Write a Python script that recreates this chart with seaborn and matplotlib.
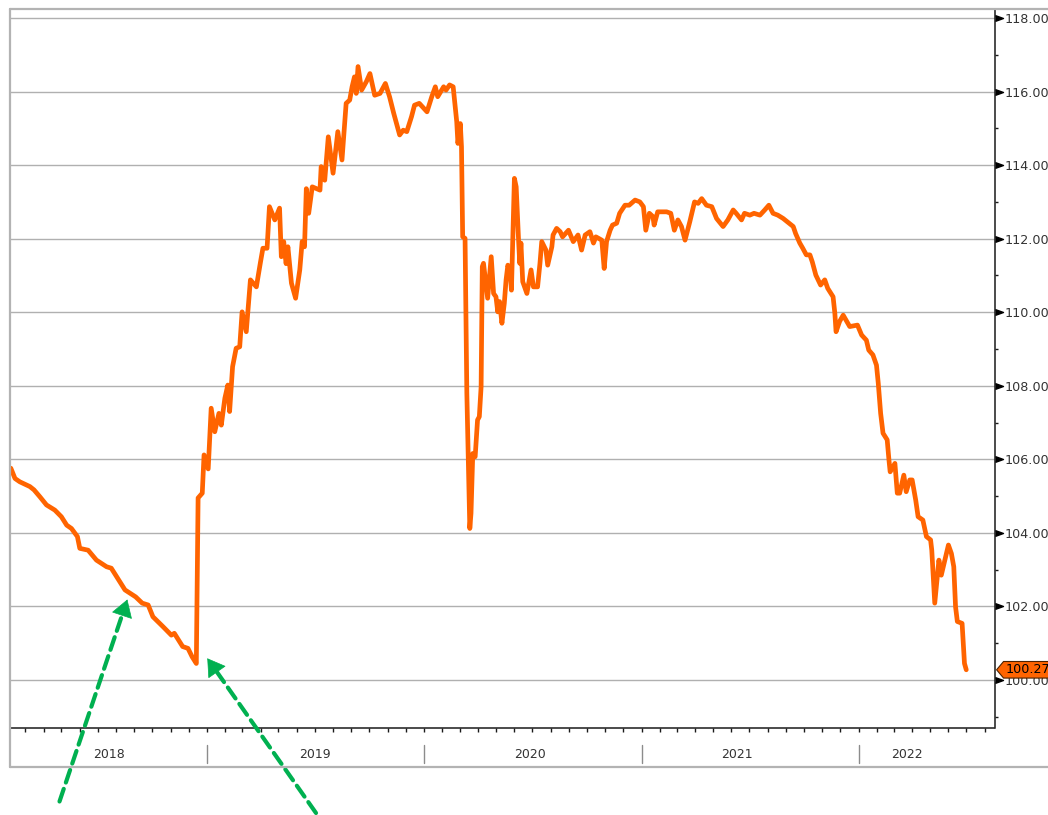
import numpy as np
import pandas as pd
import matplotlib
matplotlib.use("Agg")
import matplotlib.pyplot as plt
import matplotlib.dates as mdates
from matplotlib.lines import Line2D
from matplotlib.path import Path
from matplotlib.patches import ArrowStyle
import seaborn as sns

# ---- price history -------------------------------------------------------
dates = [
    "2018-02-05", "2018-02-12", "2018-02-20", "2018-03-09", "2018-03-16", "2018-03-26",
    "2018-04-06", "2018-04-20", "2018-05-01", "2018-05-10", "2018-05-18", "2018-05-28",
    "2018-06-01", "2018-06-15", "2018-06-29", "2018-07-16", "2018-07-24", "2018-08-02",
    "2018-08-16", "2018-09-03", "2018-09-14", "2018-09-24", "2018-10-02", "2018-10-19",
    "2018-11-02", "2018-11-07", "2018-11-21", "2018-11-30", "2018-12-07", "2018-12-14",
    "2018-12-17", "2018-12-24", "2018-12-27", "2019-01-03", "2019-01-08", "2019-01-14",
    "2019-01-21", "2019-01-25", "2019-01-31", "2019-02-05", "2019-02-08", "2019-02-13",
    "2019-02-19", "2019-02-25", "2019-03-01", "2019-03-08", "2019-03-15", "2019-03-25",
    "2019-04-01", "2019-04-05", "2019-04-12", "2019-04-16", "2019-04-25", "2019-05-03",
    "2019-05-06", "2019-05-10", "2019-05-14", "2019-05-17", "2019-05-23", "2019-05-30",
    "2019-06-06", "2019-06-10", "2019-06-14", "2019-06-17", "2019-06-21", "2019-06-27",
    "2019-07-10", "2019-07-12", "2019-07-18", "2019-07-24", "2019-08-01", "2019-08-09",
    "2019-08-16", "2019-08-23", "2019-08-29", "2019-09-02", "2019-09-06", "2019-09-09",
    "2019-09-12", "2019-09-18", "2019-09-26", "2019-10-02", "2019-10-10", "2019-10-19",
    "2019-10-28", "2019-11-04", "2019-11-11", "2019-11-21", "2019-11-27", "2019-12-03",
    "2019-12-11", "2019-12-16", "2019-12-24", "2020-01-06", "2020-01-14", "2020-01-20",
    "2020-01-24", "2020-02-03", "2020-02-07", "2020-02-13", "2020-02-19", "2020-02-25",
    "2020-02-27", "2020-03-02", "2020-03-04", "2020-03-06", "2020-03-10", "2020-03-13",
    "2020-03-18", "2020-03-20", "2020-03-23", "2020-03-27", "2020-03-31", "2020-04-03",
    "2020-04-06", "2020-04-08", "2020-04-10", "2020-04-17", "2020-04-23", "2020-04-27",
    "2020-05-01", "2020-05-04", "2020-05-07", "2020-05-11", "2020-05-15", "2020-05-18",
    "2020-05-21", "2020-05-25", "2020-05-27", "2020-06-01", "2020-06-04", "2020-06-08",
    "2020-06-10", "2020-06-12", "2020-06-15", "2020-06-22", "2020-06-29", "2020-07-03",
    "2020-07-10", "2020-07-14", "2020-07-17", "2020-07-24", "2020-07-27", "2020-08-03",
    "2020-08-05", "2020-08-11", "2020-08-17", "2020-08-21", "2020-08-31", "2020-09-08",
    "2020-09-16", "2020-09-22", "2020-09-28", "2020-10-06", "2020-10-12", "2020-10-16",
    "2020-10-26", "2020-10-30", "2020-11-03", "2020-11-09", "2020-11-13", "2020-11-20",
    "2020-11-25", "2020-12-04", "2020-12-11", "2020-12-21", "2020-12-29", "2021-01-04",
    "2021-01-08", "2021-01-14", "2021-01-20", "2021-01-22", "2021-01-28", "2021-02-12",
    "2021-02-19", "2021-02-25", "2021-03-03", "2021-03-09", "2021-03-15", "2021-03-23",
    "2021-03-31", "2021-04-06", "2021-04-12", "2021-04-20", "2021-04-29", "2021-05-07",
    "2021-05-18", "2021-05-26", "2021-06-04", "2021-06-09", "2021-06-18", "2021-06-23",
    "2021-07-02", "2021-07-09", "2021-07-19", "2021-07-27", "2021-08-03", "2021-08-10",
    "2021-08-18", "2021-08-27", "2021-09-03", "2021-09-13", "2021-09-17", "2021-09-24",
    "2021-09-29", "2021-10-05", "2021-10-11", "2021-10-15", "2021-10-21", "2021-10-29",
    "2021-11-05", "2021-11-10", "2021-11-19", "2021-11-22", "2021-11-24", "2021-11-30",
    "2021-12-06", "2021-12-17", "2021-12-30", "2022-01-06", "2022-01-14", "2022-01-18",
    "2022-01-25", "2022-01-31", "2022-02-03", "2022-02-07", "2022-02-11", "2022-02-18",
    "2022-02-21", "2022-02-23", "2022-03-03", "2022-03-07", "2022-03-11", "2022-03-18",
    "2022-03-22", "2022-03-28", "2022-04-01", "2022-04-07", "2022-04-11", "2022-04-19",
    "2022-04-25", "2022-05-02", "2022-05-04", "2022-05-09", "2022-05-16", "2022-05-20",
    "2022-06-01", "2022-06-06", "2022-06-10", "2022-06-13", "2022-06-16", "2022-06-24",
    "2022-06-28", "2022-07-01",
]
prices = [
    105.76, 105.48, 105.39, 105.26, 105.17, 104.98,
    104.76, 104.62, 104.44, 104.21, 104.12, 103.90,
    103.58, 103.53, 103.26, 103.08, 103.04, 102.81,
    102.45, 102.26, 102.09, 102.04, 101.72, 101.45,
    101.22, 101.27, 100.91, 100.86, 100.63, 100.45,
    104.95, 105.08, 106.12, 105.74, 107.39, 106.75,
    107.25, 106.93, 107.66, 108.02, 107.30, 108.52,
    109.02, 109.06, 110.01, 109.47, 110.88, 110.69,
    111.37, 111.74, 111.74, 112.87, 112.51, 112.83,
    111.51, 111.92, 111.32, 111.78, 110.79, 110.38,
    111.15, 111.92, 111.78, 113.36, 112.69, 113.41,
    113.32, 113.96, 113.59, 114.77, 113.78, 114.91,
    114.14, 115.68, 115.77, 116.13, 116.40, 115.95,
    116.68, 116.04, 116.27, 116.49, 115.90, 115.95,
    116.22, 115.86, 115.41, 114.82, 114.95, 114.91,
    115.32, 115.63, 115.68, 115.45, 115.86, 116.13,
    115.86, 116.13, 116.04, 116.18, 116.13, 115.18,
    114.59, 115.13, 114.50, 112.05, 112.01, 107.80,
    104.12, 104.53, 106.16, 106.07, 107.07, 107.16,
    107.97, 111.24, 111.33, 110.38, 111.51, 110.51,
    110.42, 110.01, 110.29, 109.70, 110.24, 110.88,
    111.28, 111.06, 110.60, 113.64, 113.41, 111.96,
    111.33, 111.88, 110.83, 110.51, 111.15, 110.69,
    110.69, 111.33, 111.92, 111.69, 111.28, 111.78,
    112.10, 112.28, 112.19, 112.05, 112.23, 111.92,
    112.10, 111.69, 112.10, 112.19, 111.88, 112.05,
    111.96, 111.19, 111.92, 112.23, 112.37, 112.42,
    112.69, 112.91, 112.91, 113.05, 113.00, 112.87,
    112.23, 112.69, 112.60, 112.37, 112.73, 112.73,
    112.69, 112.23, 112.51, 112.33, 111.96, 112.46,
    113.00, 112.96, 113.09, 112.91, 112.87, 112.55,
    112.33, 112.51, 112.78, 112.69, 112.51, 112.69,
    112.64, 112.69, 112.64, 112.78, 112.91, 112.69,
    112.64, 112.55, 112.46, 112.33, 112.14, 111.88,
    111.74, 111.56, 111.56, 111.37, 111.01, 110.74,
    110.88, 110.65, 110.42, 109.97, 109.47, 109.75,
    109.92, 109.61, 109.65, 109.38, 109.24, 108.97,
    108.84, 108.56, 108.07, 107.25, 106.71, 106.53,
    105.98, 105.66, 105.89, 105.08, 105.08, 105.57,
    105.12, 105.44, 105.44, 104.89, 104.44, 104.35,
    103.90, 103.81, 103.53, 102.09, 103.26, 102.85,
    103.67, 103.44, 103.08, 101.99, 101.59, 101.54,
    100.45, 100.278,
]

y_major = [100, 102, 104, 106, 108, 110, 112, 114, 116, 118]
y_minor = [99, 101, 103, 105, 107, 109, 111, 113, 115, 117]
year_labels = ["2018", "2019", "2020", "2021", "2022"]
year_label_dates = ["2018-07-20", "2019-07-01", "2020-06-28", "2021-06-10", "2022-03-23"]
year_breaks = ["2019-01-01", "2020-01-01", "2021-01-01", "2022-01-01"]

# arrow targets: the mid-2018 slide and the December 2018 low
arrow_targets = [("2018-08-20", 102.19), ("2019-01-01 12:00", 100.59)]
arrow_tails_px = [(59.5, 13.5), (316.0, 2.0)]

df = pd.DataFrame({"date": pd.to_datetime(dates), "price": prices})

# ---- style ----------------------------------------------------------------
sns.set_style("white")
plt.rcParams["font.family"] = ["DejaVu Sans"]

W, H = 1048, 815
fig = plt.figure(figsize=(W / 100, H / 100), dpi=100, facecolor="white")

ax_l, ax_r, ax_t, ax_b = 10, 994.5, 9, 728
ax = fig.add_axes([ax_l / W, 1 - ax_b / H, (ax_r - ax_l) / W, (ax_b - ax_t) / H])
ax.set_facecolor("white")

line_color = "#FF6400"
sns.lineplot(data=df, x="date", y="price", color=line_color, lw=3.4, ax=ax,
             sort=False, zorder=3)
for ln in ax.get_lines():
    ln.set_solid_joinstyle("round")
    ln.set_solid_capstyle("round")

ax.set_xlim(pd.Timestamp("2018-02-03 15:00"), pd.Timestamp("2022-08-17 12:00"))
ax.set_ylim(98.695, 118.245)
ax.set_xlabel("")
ax.set_ylabel("")

# spines
ax.spines["top"].set_visible(False)
ax.spines["left"].set_visible(False)
for side in ("right", "bottom"):
    ax.spines[side].set_visible(True)
    ax.spines[side].set_color("#1a1a1a")
    ax.spines[side].set_linewidth(1.1)

# horizontal grid
ax.set_yticks(y_major)
ax.set_yticks(y_minor, minor=True)
ax.yaxis.tick_right()
ax.yaxis.set_major_formatter(matplotlib.ticker.FormatStrFormatter("%.3f"))
ax.grid(axis="y", which="major", color="#b0b0b0", lw=1.0, zorder=0)
ax.grid(axis="x", visible=False)
ax.tick_params(axis="y", which="major", length=0, pad=7.6,
               labelsize=9.2, labelcolor="#333333")
ax.tick_params(axis="y", which="minor", length=2.5, width=1.0,
               color="#1a1a1a", direction="out", right=True, left=False)

# black arrowheads at major y ticks
tri = [(0, -0.36), (1, 0), (0, 0.36)]
ax.plot([1] * len(y_major), y_major, transform=ax.get_yaxis_transform(),
        ls="none", marker=tri, ms=11.5, color="black", clip_on=False, zorder=5)

# monthly ticks on the date axis
ax.xaxis.set_major_locator(mdates.MonthLocator())
ax.xaxis.set_major_formatter(matplotlib.ticker.NullFormatter())
ax.tick_params(axis="x", which="major", length=3, width=1.0, color="#1a1a1a",
               direction="out", bottom=True)

# year separators and year labels under the axis
xt = ax.get_xaxis_transform()
for d in year_breaks:
    x = mdates.date2num(pd.Timestamp(d))
    ax.plot([x, x], [-(745 - ax_b) / (ax_b - ax_t), -(763 - ax_b) / (ax_b - ax_t)],
            transform=xt, color="#8c8c8c", lw=1.0, clip_on=False)
for lab, d in zip(year_labels, year_label_dates):
    ax.text(mdates.date2num(pd.Timestamp(d)), -(755 - ax_b) / (ax_b - ax_t), lab,
            transform=xt, ha="center", va="center", fontsize=9.0, color="#333333")


# last-value tag
def tag_box(x0, y0, width, height, mutation_size):
    pad = 0.14 * mutation_size
    x0, y0 = x0 - pad, y0 - pad
    x1, y1 = x0 + width + 2 * pad, y0 + height + 2 * pad
    tip = x0 - 0.42 * (y1 - y0)
    ym = 0.5 * (y0 + y1)
    return Path([(x0, y0), (x1, y0), (x1, y1), (x0, y1), (tip, ym), (x0, y0)],
                closed=True)


last_value = prices[-1]
ax.annotate(f"{last_value:.3f}", xy=(1, last_value), xycoords=ax.get_yaxis_transform(),
            xytext=(7.8, 0), textcoords="offset points", ha="left", va="center",
            fontsize=9.2, color="black", annotation_clip=False, zorder=20,
            bbox=dict(boxstyle=tag_box, fc="#FF6400", ec="#4d2200", lw=0.8))

# outer frame around the chart panel
frame_kw = dict(color="#b3b3b3", lw=1.6, transform=fig.transFigure, zorder=30)
fig.add_artist(Line2D([10 / W, 1], [1 - 9 / H, 1 - 9 / H], **frame_kw))
fig.add_artist(Line2D([10 / W, 10 / W], [1 - 9 / H, 1 - 767 / H], **frame_kw))
fig.add_artist(Line2D([10 / W, 1], [1 - 767 / H, 1 - 767 / H], **frame_kw))

# green dashed pointer arrows: dashed shaft plus a solid filled head
green = "#00B050"
head_len_px = 16.0
for (d, v), tail in zip(arrow_targets, arrow_tails_px):
    tip_data = (mdates.date2num(pd.Timestamp(d)), v)
    tip_px = ax.transData.transform(tip_data)
    vec = tip_px - np.asarray(tail)
    unit = vec / np.hypot(*vec)
    base_px = tip_px - unit * head_len_px
    ax.annotate("", xy=tuple(base_px + unit * 1.0), xycoords="figure pixels",
                xytext=tail, textcoords="figure pixels", annotation_clip=False,
                zorder=40,
                arrowprops=dict(arrowstyle="-", color=green, lw=3.0,
                                ls=(0, (3.2, 1.6)), shrinkA=0, shrinkB=0))
    ax.annotate("", xy=tip_data, xycoords="data",
                xytext=tuple(base_px), textcoords="figure pixels",
                annotation_clip=False, zorder=41,
                arrowprops=dict(arrowstyle=ArrowStyle("-|>", head_length=1.0, head_width=0.62),
                                color=green, lw=0.5, shrinkA=0, shrinkB=0,
                                mutation_scale=head_len_px * 0.72))

fig.savefig("out.png", dpi=100, facecolor="white")
